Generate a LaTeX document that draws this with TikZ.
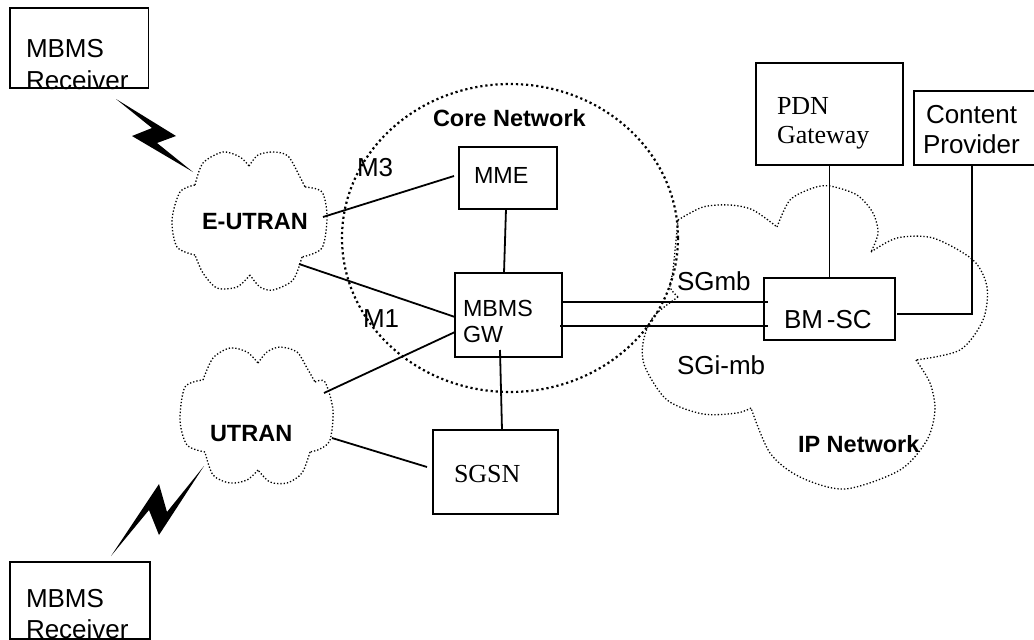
\documentclass[tikz,border=0pt]{standalone}
\usepackage{fontspec}
\setmainfont{Liberation Sans}
\newfontfamily\timesf{Liberation Serif}
\tikzset{
  boxnode/.style={draw,line width=1.8pt,inner sep=0pt,outer sep=0pt},
  lbl/.style={anchor=base west,inner sep=0pt,outer sep=0pt,font=\fontsize{26}{28}\selectfont},
  lblsm/.style={anchor=base west,inner sep=0pt,outer sep=0pt,font=\fontsize{23.3}{26}\selectfont},
  lblb/.style={anchor=base west,inner sep=0pt,outer sep=0pt,font=\fontsize{23.5}{26}\selectfont\bfseries},
  lblt/.style={anchor=base west,inner sep=0pt,outer sep=0pt,font=\fontsize{26}{28}\selectfont\timesf},
  conn/.style={line width=1.8pt},
  cloudline/.style={line width=1.3pt,dash pattern=on 1.3pt off 2pt},
  coreline/.style={line width=2.2pt,dash pattern=on 2.2pt off 2.9pt}
}
\begin{document}
\begin{tikzpicture}[x=1pt,y=-1pt]
\useasboundingbox (0,0) rectangle (1034,640);
% clouds
\draw[coreline] (510,238) ellipse [x radius=168,y radius=154];
\draw[cloudline]
  plot[smooth] coordinates {(249,166) (258,155) (273,152) (288,156) (300,177) (305,187)}
  plot[smooth] coordinates {(305,187) (322,192) (327,217) (322,248) (302,257)}
  plot[smooth] coordinates {(302,257) (293,280) (273,290) (260,287) (250,275)}
  plot[smooth] coordinates {(250,275) (237,287) (217,288) (203,273) (195,255)}
  plot[smooth] coordinates {(195,255) (177,247) (172,220) (180,192) (195,185)}
  plot[smooth] coordinates {(195,185) (203,163) (223,152) (240,157) (249,166)};
\draw[cloudline]
  plot[smooth] coordinates {(258,363) (267,352) (280,347) (297,352) (307,368) (315,382)}
  plot[smooth] coordinates {(315,382) (325,382) (333,410) (330,440) (320,449) (310,452)}
  plot[smooth] coordinates {(310,452) (302,473) (287,483) (270,482) (258,470)}
  plot[smooth] coordinates {(258,470) (247,480) (230,483) (213,475) (205,452)}
  plot[smooth] coordinates {(205,452) (187,445) (180,420) (185,387) (203,380)}
  plot[smooth] coordinates {(203,380) (213,358) (230,348) (247,352) (258,363)};
\draw[cloudline]
  plot[smooth] coordinates {(678,220) (703,207) (730,205) (753,210) (777,227)}
  plot[smooth] coordinates {(777,227) (790,200) (813,188) (830,186) (857,195) (873,213) (878,233) (871,252)}
  plot[smooth] coordinates {(871,252) (897,238) (933,238) (973,260) (987,287) (983,320) (960,350) (916,360)}
  plot[smooth] coordinates {(916,360) (930,383) (935,410) (927,440) (900,470) (845,489) (800,477) (770,453) (751,408)}
  plot[smooth] coordinates {(751,408) (737,413) (703,414) (667,400) (645,367) (643,343) (653,317) (678,297)}
  plot[smooth] coordinates {(678,297) (670,287) (673,270) (678,220)};
% lightning
\fill (116,99) -- (176,136) -- (157,143) -- (193,172) -- (132,136) -- (152,128) -- cycle;
\fill (111,556) -- (159,484) -- (167,512) -- (204,466) -- (159,535) -- (149,510) -- cycle;
% boxes
\node[boxnode,minimum width=138.5pt,minimum height=80pt] (rxa) at (79.25,48) {};
\node[boxnode,minimum width=140pt,minimum height=77pt] (rxb) at (80,600.5) {};
\node[boxnode,minimum width=98pt,minimum height=62pt] (mme) at (508,178) {};
\node[boxnode,minimum width=107pt,minimum height=84pt] (gw) at (508.5,315) {};
\node[boxnode,minimum width=125pt,minimum height=84pt] (sgsn) at (495.5,472) {};
\node[boxnode,minimum width=131pt,minimum height=62pt] (bmsc) at (829.5,309) {};
\node[boxnode,minimum width=147pt,minimum height=102pt] (pdn) at (829.5,114) {};
\node[boxnode,minimum width=122pt,minimum height=74pt] (cp) at (975,128) {};
% free ends on the clouds
\coordinate (eua) at (323,217);
\coordinate (eub) at (299,264);
\coordinate (ua) at (324,393);
\coordinate (ub) at (332,438);
% connectors
\draw[conn] (eua) -- ([shift={(-5,-2)}]mme.west);
\draw[conn] (eub) -- ([shift={(0,2)}]gw.west);
\draw[conn] (ua) -- ([shift={(0,17)}]gw.west);
\draw[conn] (ub) -- ([shift={(-6,-5)}]sgsn.west);
\draw[conn] ([shift={(-2,0)}]mme.south) -- ([shift={(-4.5,0)}]gw.north);
\draw[conn] ([shift={(-8.5,-7)}]gw.south) -- ([shift={(6.5,0)}]sgsn.north);
\draw[conn] ([shift={(0,-13)}]gw.east) -- ([shift={(4,-7)}]bmsc.west);
\draw[conn] ([shift={(-2,11)}]gw.east) -- ([shift={(4,17)}]bmsc.west);
\draw[conn] (pdn.south) -- (pdn.south|-bmsc.north);
\draw[conn] ([shift={(-3,0)}]cp.south) |- ([shift={(2,5)}]bmsc.east);
% labels
\node[lbl] (ta1) at (26,57) {MBMS};
\node[lbl] (ta2) at (26,89) {Receiver};
\node[lbl] (tb1) at (26,607) {MBMS};
\node[lbl] (tb2) at (26,638.5) {Receiver};
\node[lblb] (teu) at (202,229) {E-UTRAN};
\node[lblb] (tu) at (210,441) {UTRAN};
\node[lblb] (tcore) at (433,126) {Core Network};
\node[lblb] (tip) at (798,452) {IP Network};
\node[lbl] (tm3) at (357,176) {M3};
\node[lbl] (tm1) at (363,327) {M1};
\node[lblsm] (tmme) at (474,183) {MME};
\node[lblsm] (tgw1) at (463,316) {MBMS};
\node[lblsm] (tgw2) at (463,342) {GW};
\node[lblt] (tsgsn) at (454,482) {SGSN};
\node[lblt] (tpdn1) at (777,114) {PDN};
\node[lblt] (tpdn2) at (777,143) {Gateway};
\node[lbl] (tcp1) at (926,123) {Content};
\node[lbl] (tcp2) at (923,153) {Provider};
\node[lbl] (tbm) at (784,328) {BM\hspace{4pt}-SC};
\node[lbl] (tsgmb) at (677,290) {SGmb};
\node[lbl] (tsgi) at (677,374) {SGi-mb};
\end{tikzpicture}
\end{document}
